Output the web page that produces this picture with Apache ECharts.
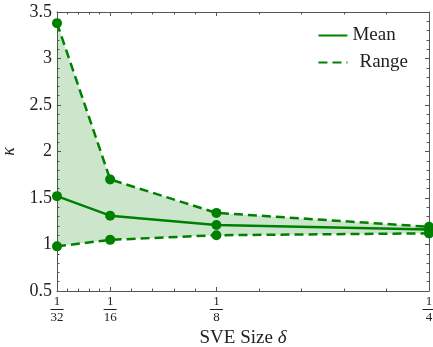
<!DOCTYPE html>
<html><head><meta charset="utf-8">
<script src="https://cdn.jsdelivr.net/npm/echarts@6/dist/echarts.min.js"></script>
<style>html,body{margin:0;padding:0;background:#fff}#c{width:433px;height:347px}</style>
</head><body><div id="c"></div>
<script>
var xValues = [1/32, 1/16, 1/8, 1/4];
var xTickLabels = ['32', '16', '8', '4'];
var meanValues = [1.52, 1.31, 1.21, 1.16];
var upperValues = [3.38, 1.70, 1.34, 1.19];
var lowerValues = [0.98, 1.05, 1.10, 1.12];

var GREEN = '#008000';
var AX = '#555';
var FONT = 'Liberation Serif';

// minor tick positions: 5 subdivisions per interval between labelled ticks
var minorX = [];
for (var i = 0; i < xValues.length - 1; i++) {
  for (var k = 1; k < 5; k++) minorX.push(xValues[i] + (xValues[i+1] - xValues[i]) * k / 5);
}

function pairs(ys) { return xValues.map(function (x, i) { return [x, ys[i]]; }); }

function xAxisDef(pos, ticks, len, labels, line) {
  return {
    type: 'value', position: pos, min: xValues[0], max: xValues[xValues.length-1],
    axisLine: { show: line, onZero: false, lineStyle: { color: AX, width: 1 } },
    axisTick: { show: true, inside: true, length: len, customValues: ticks, lineStyle: { color: AX } },
    axisLabel: labels ? {
      show: true, customValues: xValues, margin: 5,
      formatter: function (v) {
        var idx = 0, best = 1e9;
        xValues.forEach(function (x, i) { if (Math.abs(x - v) < best) { best = Math.abs(x - v); idx = i; } });
        return '{n|1}\n{l| }\n{d|' + xTickLabels[idx] + '}';
      },
      rich: {
        n: { fontFamily: FONT, fontSize: 13, color: '#222', lineHeight: 12, align: 'center' },
        l: { backgroundColor: '#222', height: 1, width: 13, lineHeight: 3, fontSize: 1, align: 'center' },
        d: { fontFamily: FONT, fontSize: 13, color: '#222', lineHeight: 13, align: 'center' }
      }
    } : { show: false },
    splitLine: { show: false },
    name: labels ? 'SVE Size {i|δ}' : '', nameLocation: 'middle', nameGap: 31,
    nameTextStyle: { fontFamily: FONT, fontSize: 19, color: '#222',
      rich: { i: { fontFamily: FONT, fontSize: 19, color: '#222', fontStyle: 'italic' } } }
  };
}

function yAxisDef(pos, labels) {
  return {
    type: 'value', position: pos, min: 0.5, max: 3.5, interval: 0.5,
    axisLine: { show: true, lineStyle: { color: AX, width: 1 } },
    axisTick: { show: true, inside: true, length: 4, lineStyle: { color: AX } },
    minorTick: { show: true, splitNumber: 5, length: 2.5, lineStyle: { color: AX } },
    axisLabel: labels ? { show: true, margin: 5, fontFamily: FONT, fontSize: 18, color: '#222' } : { show: false },
    splitLine: { show: false },
    name: labels ? 'κ' : '', nameLocation: 'middle', nameGap: 39, nameRotate: 90,
    nameTextStyle: { fontFamily: FONT, fontSize: 18, color: '#222', fontStyle: 'italic' }
  };
}

var option = {
  animation: false,
  grid: { left: 57, right: 4, top: 12, bottom: 56, containLabel: false, outerBoundsMode: 'none' },
  xAxis: [
    xAxisDef('bottom', xValues, 4, true, true),
    xAxisDef('bottom', minorX, 2.5, false, false),
    xAxisDef('top', xValues, 4, false, true),
    xAxisDef('top', minorX, 2.5, false, false)
  ],
  yAxis: [ yAxisDef('left', true), yAxisDef('right', false) ],
  legend: {
    right: 20, top: 21, orient: 'vertical', itemWidth: 29, itemHeight: 14, itemGap: 8,
    data: ['Mean', 'Range'],
    itemStyle: { opacity: 0 },
    formatter: function (n) { return n === 'Range' ? '{r|' + n + '}' : n; },
    textStyle: {
      fontFamily: FONT, fontSize: 19, color: '#222',
      rich: { r: { fontFamily: FONT, fontSize: 19, color: '#222', padding: [0, 0, 0, 7] } }
    }
  },
  series: [
    {
      type: 'custom', name: 'band', silent: true, z: 1,
      data: [0],
      renderItem: function (params, api) {
        var pts = [];
        xValues.forEach(function (x, i) { pts.push(api.coord([x, upperValues[i]])); });
        for (var i = xValues.length - 1; i >= 0; i--) pts.push(api.coord([xValues[i], lowerValues[i]]));
        return { type: 'polygon', shape: { points: pts }, style: { fill: 'rgba(0,128,0,0.2)', stroke: null } };
      }
    },
    {
      type: 'line', name: 'Range', data: pairs(upperValues), z: 3,
      symbol: 'circle', symbolSize: 10, itemStyle: { color: GREEN },
      lineStyle: { color: GREEN, width: 2.5, type: [9, 5] }
    },
    {
      type: 'line', name: 'Range', data: pairs(lowerValues), z: 3,
      symbol: 'circle', symbolSize: 10, itemStyle: { color: GREEN },
      lineStyle: { color: GREEN, width: 2.5, type: [9, 5] }
    },
    {
      type: 'line', name: 'Mean', data: pairs(meanValues), z: 4,
      symbol: 'circle', symbolSize: 10, itemStyle: { color: GREEN },
      lineStyle: { color: GREEN, width: 2.5 }
    }
  ]
};
echarts.init(document.getElementById('c')).setOption(option);
</script></body></html>
